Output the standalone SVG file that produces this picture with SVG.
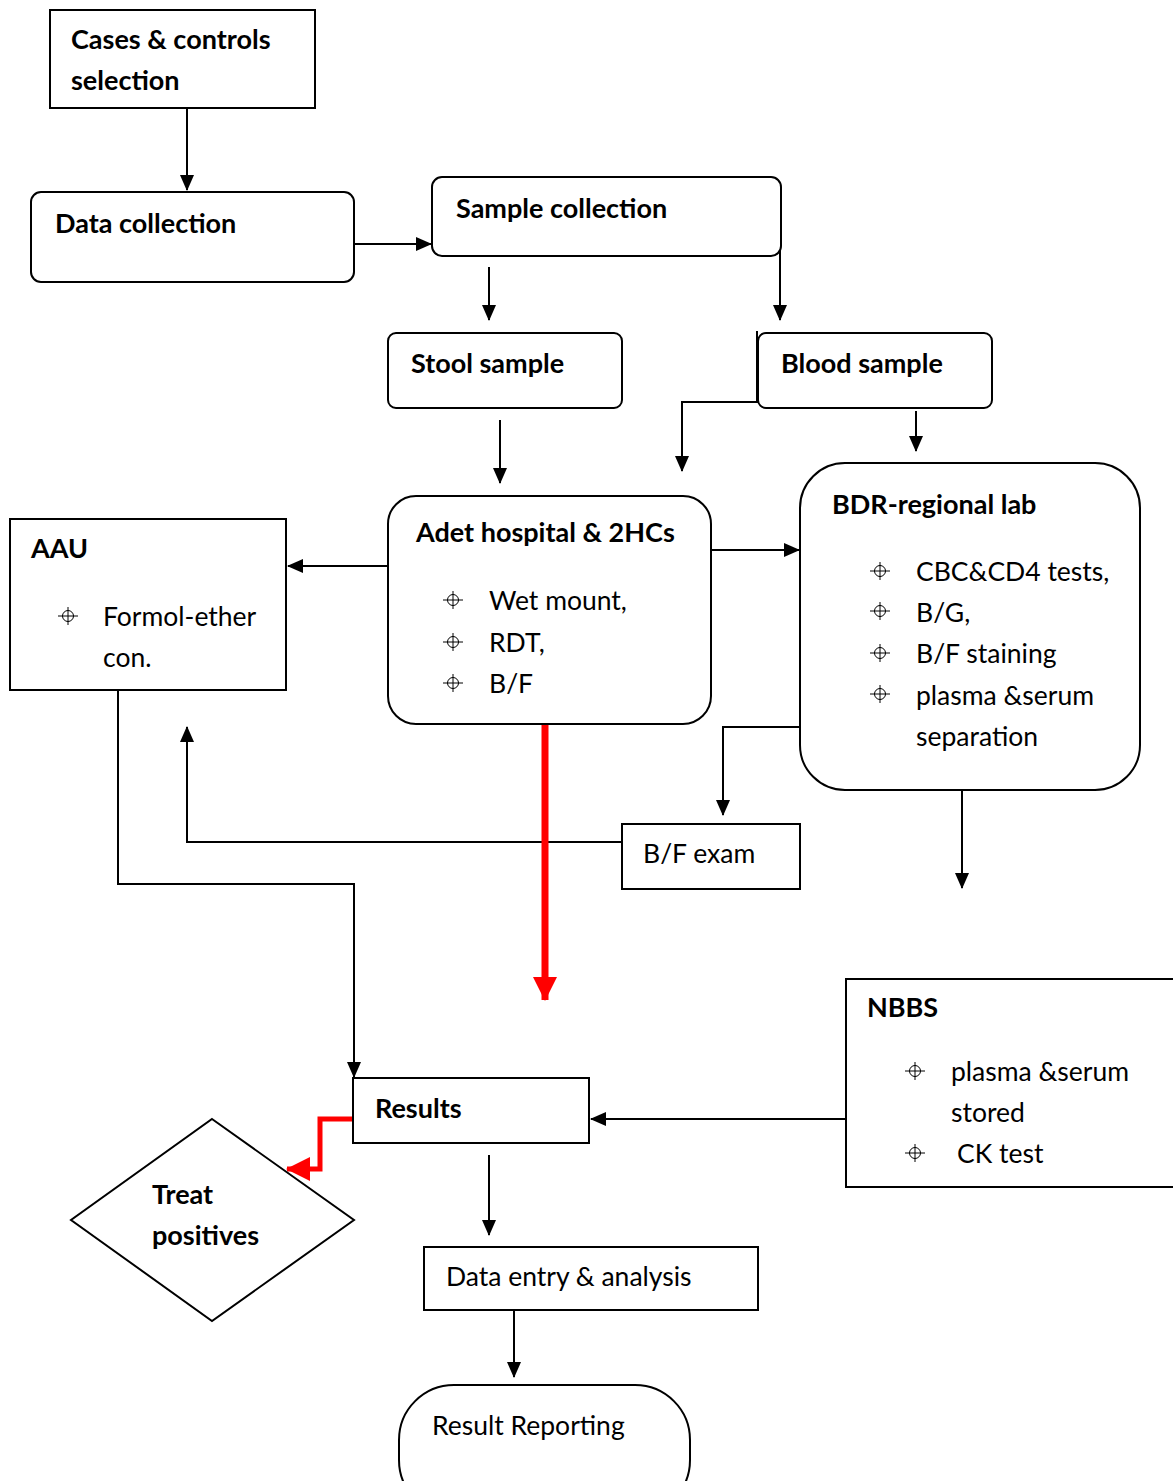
<svg xmlns="http://www.w3.org/2000/svg" width="1173" height="1481" viewBox="0 0 1173 1481">
<style>
.box{fill:#fff;stroke:#000;stroke-width:2}
.b{font-family:Lato,"Open Sans","Liberation Sans",sans-serif;font-weight:bold;font-size:27px;fill:#000}
.t{font-family:Lato,"Open Sans","Liberation Sans",sans-serif;font-size:26.5px;fill:#000}
.c{fill:none;stroke:#000;stroke-width:2}
.r{fill:none;stroke:#f00;stroke-linejoin:miter}
.bul{fill:none;stroke:#000;stroke-width:1}
</style>
<defs>
<marker id="ah" markerUnits="userSpaceOnUse" markerWidth="16" markerHeight="16" viewBox="0 0 16 16" refX="15" refY="8" orient="auto">
<path d="M0,1 L16,8 L0,15 z" fill="#000"/>
</marker>
<marker id="rah" markerUnits="userSpaceOnUse" markerWidth="24" markerHeight="24" viewBox="0 0 24 24" refX="23" refY="12" orient="auto">
<path d="M0,0 L24,12 L0,24 z" fill="#f00"/>
</marker>
<g id="bullet">
<circle cx="0" cy="0" r="5.5" class="bul"/>
<line x1="-10" y1="0" x2="10" y2="0" class="bul"/>
<line x1="0" y1="-9" x2="0" y2="9" class="bul"/>
</g>
</defs>
<rect width="1173" height="1481" fill="#fff"/>

<g id="connectors">
<line x1="187" y1="108" x2="187" y2="190" class="c" marker-end="url(#ah)"/>
<line x1="354" y1="244" x2="431" y2="244" class="c" marker-end="url(#ah)"/>
<line x1="489" y1="267" x2="489" y2="320" class="c" marker-end="url(#ah)"/>
<line x1="780" y1="242" x2="780" y2="320" class="c" marker-end="url(#ah)"/>
<polyline points="757,331 757,402 682,402 682,471" class="c" marker-end="url(#ah)"/>
<line x1="916" y1="411" x2="916" y2="451" class="c" marker-end="url(#ah)"/>
<line x1="500" y1="420" x2="500" y2="483" class="c" marker-end="url(#ah)"/>
<line x1="388" y1="566" x2="288" y2="566" class="c" marker-end="url(#ah)"/>
<line x1="711" y1="550" x2="799" y2="550" class="c" marker-end="url(#ah)"/>
<polyline points="800,727 723,727 723,815" class="c" marker-end="url(#ah)"/>
<polyline points="622,842 187,842 187,727" class="c" marker-end="url(#ah)"/>
<line x1="962" y1="790" x2="962" y2="888" class="c" marker-end="url(#ah)"/>
<polyline points="118,690 118,884 354,884 354,1077" class="c" marker-end="url(#ah)"/>
<line x1="846" y1="1119" x2="591" y2="1119" class="c" marker-end="url(#ah)"/>
<line x1="489" y1="1155" x2="489" y2="1235" class="c" marker-end="url(#ah)"/>
<line x1="514" y1="1311" x2="514" y2="1377" class="c" marker-end="url(#ah)"/>
<line x1="545" y1="724" x2="545" y2="1000" class="r" stroke-width="7" marker-end="url(#rah)"/>
<polyline points="353,1119 320,1119 320,1169 287,1169" class="r" stroke-width="5" marker-end="url(#rah)"/>
</g>

<g id="cases">
<rect x="50" y="10" width="265" height="98" class="box"/>
<text x="71" y="49" class="b">Cases &amp; controls</text>
<text x="71" y="90" class="b">selection</text>
</g>

<g id="data-collection">
<rect x="31" y="192" width="323" height="90" rx="10" class="box"/>
<text x="55" y="233" class="b">Data collection</text>
</g>

<g id="sample-collection">
<rect x="432" y="177" width="349" height="79" rx="10" class="box"/>
<text x="456" y="218" class="b">Sample collection</text>
</g>

<g id="stool">
<rect x="388" y="333" width="234" height="75" rx="8" class="box"/>
<text x="411" y="373" class="b">Stool sample</text>
</g>

<g id="blood">
<rect x="758" y="333" width="234" height="75" rx="8" class="box"/>
<text x="781" y="373" class="b">Blood sample</text>
</g>

<g id="adet">
<rect x="388" y="496" width="323" height="228" rx="28" class="box"/>
<text x="416" y="542" class="b">Adet hospital &amp; 2HCs</text>
<use href="#bullet" x="453" y="600"/>
<text x="489" y="610" class="t">Wet mount,</text>
<use href="#bullet" x="453" y="642"/>
<text x="489" y="652" class="t">RDT,</text>
<use href="#bullet" x="453" y="683"/>
<text x="489" y="693" class="t">B/F</text>
</g>

<g id="aau">
<rect x="10" y="519" width="276" height="171" class="box"/>
<text x="31" y="558" class="b">AAU</text>
<use href="#bullet" x="68" y="616"/>
<text x="103" y="626" class="t">Formol-ether</text>
<text x="103" y="667" class="t">con.</text>
</g>

<g id="bdr">
<rect x="800" y="463" width="340" height="327" rx="45" class="box"/>
<text x="832" y="514" class="b">BDR-regional lab</text>
<use href="#bullet" x="880" y="571"/>
<text x="916" y="581" class="t">CBC&amp;CD4 tests,</text>
<use href="#bullet" x="880" y="611"/>
<text x="916" y="622" class="t">B/G,</text>
<use href="#bullet" x="880" y="653"/>
<text x="916" y="663" class="t">B/F staining</text>
<use href="#bullet" x="880" y="694"/>
<text x="916" y="705" class="t">plasma &amp;serum</text>
<text x="916" y="746" class="t">separation</text>
</g>

<g id="bf-exam">
<rect x="622" y="824" width="178" height="65" class="box"/>
<text x="643" y="863" class="t">B/F exam</text>
</g>

<g id="results">
<rect x="353" y="1078" width="236" height="65" class="box"/>
<text x="375" y="1118" class="b">Results</text>
</g>

<g id="nbbs">
<rect x="846" y="979" width="340" height="208" class="box"/>
<text x="867" y="1017" class="b">NBBS</text>
<use href="#bullet" x="915" y="1071"/>
<text x="951" y="1081" class="t">plasma &amp;serum</text>
<text x="951" y="1122" class="t">stored</text>
<use href="#bullet" x="915" y="1153"/>
<text x="957" y="1163" class="t">CK test</text>
</g>

<g id="treat">
<polygon points="212,1119 354,1220 212,1321 71,1220" class="box"/>
<text x="152" y="1204" class="b">Treat</text>
<text x="152" y="1245" class="b">positives</text>
</g>

<g id="data-entry">
<rect x="424" y="1247" width="334" height="63" class="box"/>
<text x="446" y="1286" class="t">Data entry &amp; analysis</text>
</g>

<g id="result-reporting">
<rect x="399" y="1385" width="291" height="130" rx="55" class="box"/>
<text x="432" y="1435" class="t">Result Reporting</text>
</g>
</svg>
